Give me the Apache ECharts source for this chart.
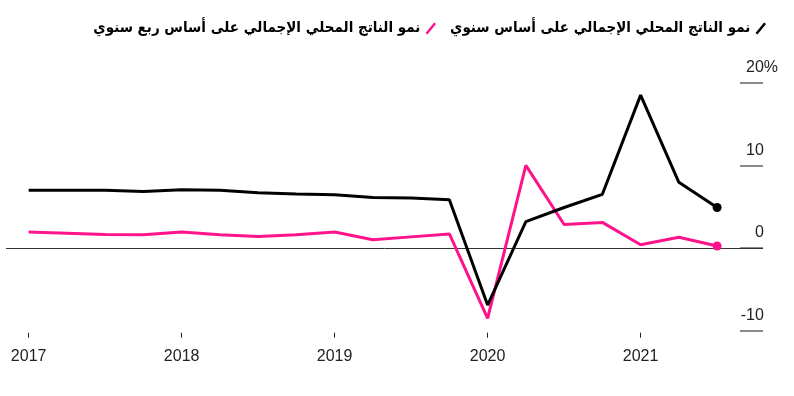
<!DOCTYPE html>
<html>
<head>
<meta charset="utf-8">
<script src="https://cdn.jsdelivr.net/npm/echarts@6/dist/echarts.min.js"></script>
<style>html,body{margin:0;padding:0;background:#fff}#c{width:794px;height:396px}</style>
</head>
<body>
<div id="c"></div>
<script>
// Quarterly periods: 2017 Q1 .. 2021 Q3
var years =    [2017,2017,2017,2017,2018,2018,2018,2018,2019,2019,2019,2019,2020,2020,2020,2020,2021,2021,2021];
var quarters = [1,2,3,4,1,2,3,4,1,2,3,4,1,2,3,4,1,2,3];
// Year-on-year GDP growth (%)
var annualGrowth = [7.0,7.0,7.0,6.85,7.05,7.0,6.7,6.55,6.45,6.1,6.05,5.85,-6.9,3.2,4.9,6.5,18.5,7.95,4.9];
// Quarter-on-quarter GDP growth (%)
var quarterlyGrowth = [1.95,1.8,1.65,1.6,1.95,1.6,1.4,1.6,1.95,1.0,1.35,1.7,-8.5,10.0,2.85,3.1,0.4,1.3,0.25];
var yearTicks = [2017,2018,2019,2020,2021];
var nameAnnual = 'نمو الناتج المحلي الإجمالي على أساس سنوي';
var nameQuarterly = 'نمو الناتج المحلي الإجمالي على أساس ربع سنوي';

function toPoints(vals){
  return vals.map(function(v,i){ return [years[i] + (quarters[i]-1)/4, v]; });
}
function lastSymbol(n){
  return function(val, params){ return params.dataIndex === n-1 ? 9 : 0; };
}
var chart = echarts.init(document.getElementById('c'), null, {renderer:'canvas'});
var slash = 'path://M0,11 L9,0 L11,1.6 L2,12.6 Z';
chart.setOption({
  animation:false,
  textStyle:{fontFamily:'Liberation Sans, Arial, sans-serif'},
  legend:{
    top:16, right:23, align:'right', itemGap:14, itemWidth:11, itemHeight:12,
    data:[{name:nameQuarterly, icon:slash},{name:nameAnnual, icon:slash}],
    textStyle:{fontFamily:'DejaVu Sans Condensed, DejaVu Sans, sans-serif', fontWeight:'bold', fontSize:15, color:'#000'}
  },
  grid:{left:6, right:31, top:82.7, bottom:65.3, containLabel:false},
  xAxis:{
    type:'value', min:2016.852, max:2021.8, offset:2,
    splitLine:{show:false}, axisLine:{show:false, onZero:false},
    axisTick:{show:true, length:5, customValues:yearTicks, lineStyle:{color:'#222', width:1}},
    axisLabel:{customValues:yearTicks, margin:16, fontSize:16, color:'#222', formatter:function(v){return String(v);}}
  },
  yAxis:{
    type:'value', position:'right', min:-10, max:20, interval:10,
    splitLine:{show:false}, axisLine:{show:false, onZero:false},
    axisTick:{show:true, inside:true, length:23, lineStyle:{color:'#666', width:1.5}},
    axisLabel:{
      inside:false, align:'right', margin:15, verticalAlign:'bottom', padding:[0,0,7,0],
      fontSize:16, color:'#222',
      formatter:function(v){ return v===20 ? '20%' : v + '{h|%}'; },
      rich:{h:{color:'transparent', fontSize:16, fontFamily:'Liberation Sans, Arial, sans-serif'}}
    }
  },
  series:[
    {
      name:nameQuarterly, type:'line', data:toPoints(quarterlyGrowth), color:'#ff138c',
      lineStyle:{width:3, color:'#ff138c'}, symbol:'circle', symbolSize:lastSymbol(quarterlyGrowth.length),
      itemStyle:{color:'#ff138c'}, z:3
    },
    {
      name:nameAnnual, type:'line', data:toPoints(annualGrowth), color:'#000',
      lineStyle:{width:3, color:'#000'}, symbol:'circle', symbolSize:lastSymbol(annualGrowth.length),
      itemStyle:{color:'#000'}, z:4,
      markLine:{silent:true, symbol:'none', label:{show:false}, lineStyle:{color:'#333', width:1, type:'solid'}, data:[{yAxis:0}], z:1}
    }
  ]
});
</script>
</body>
</html>
